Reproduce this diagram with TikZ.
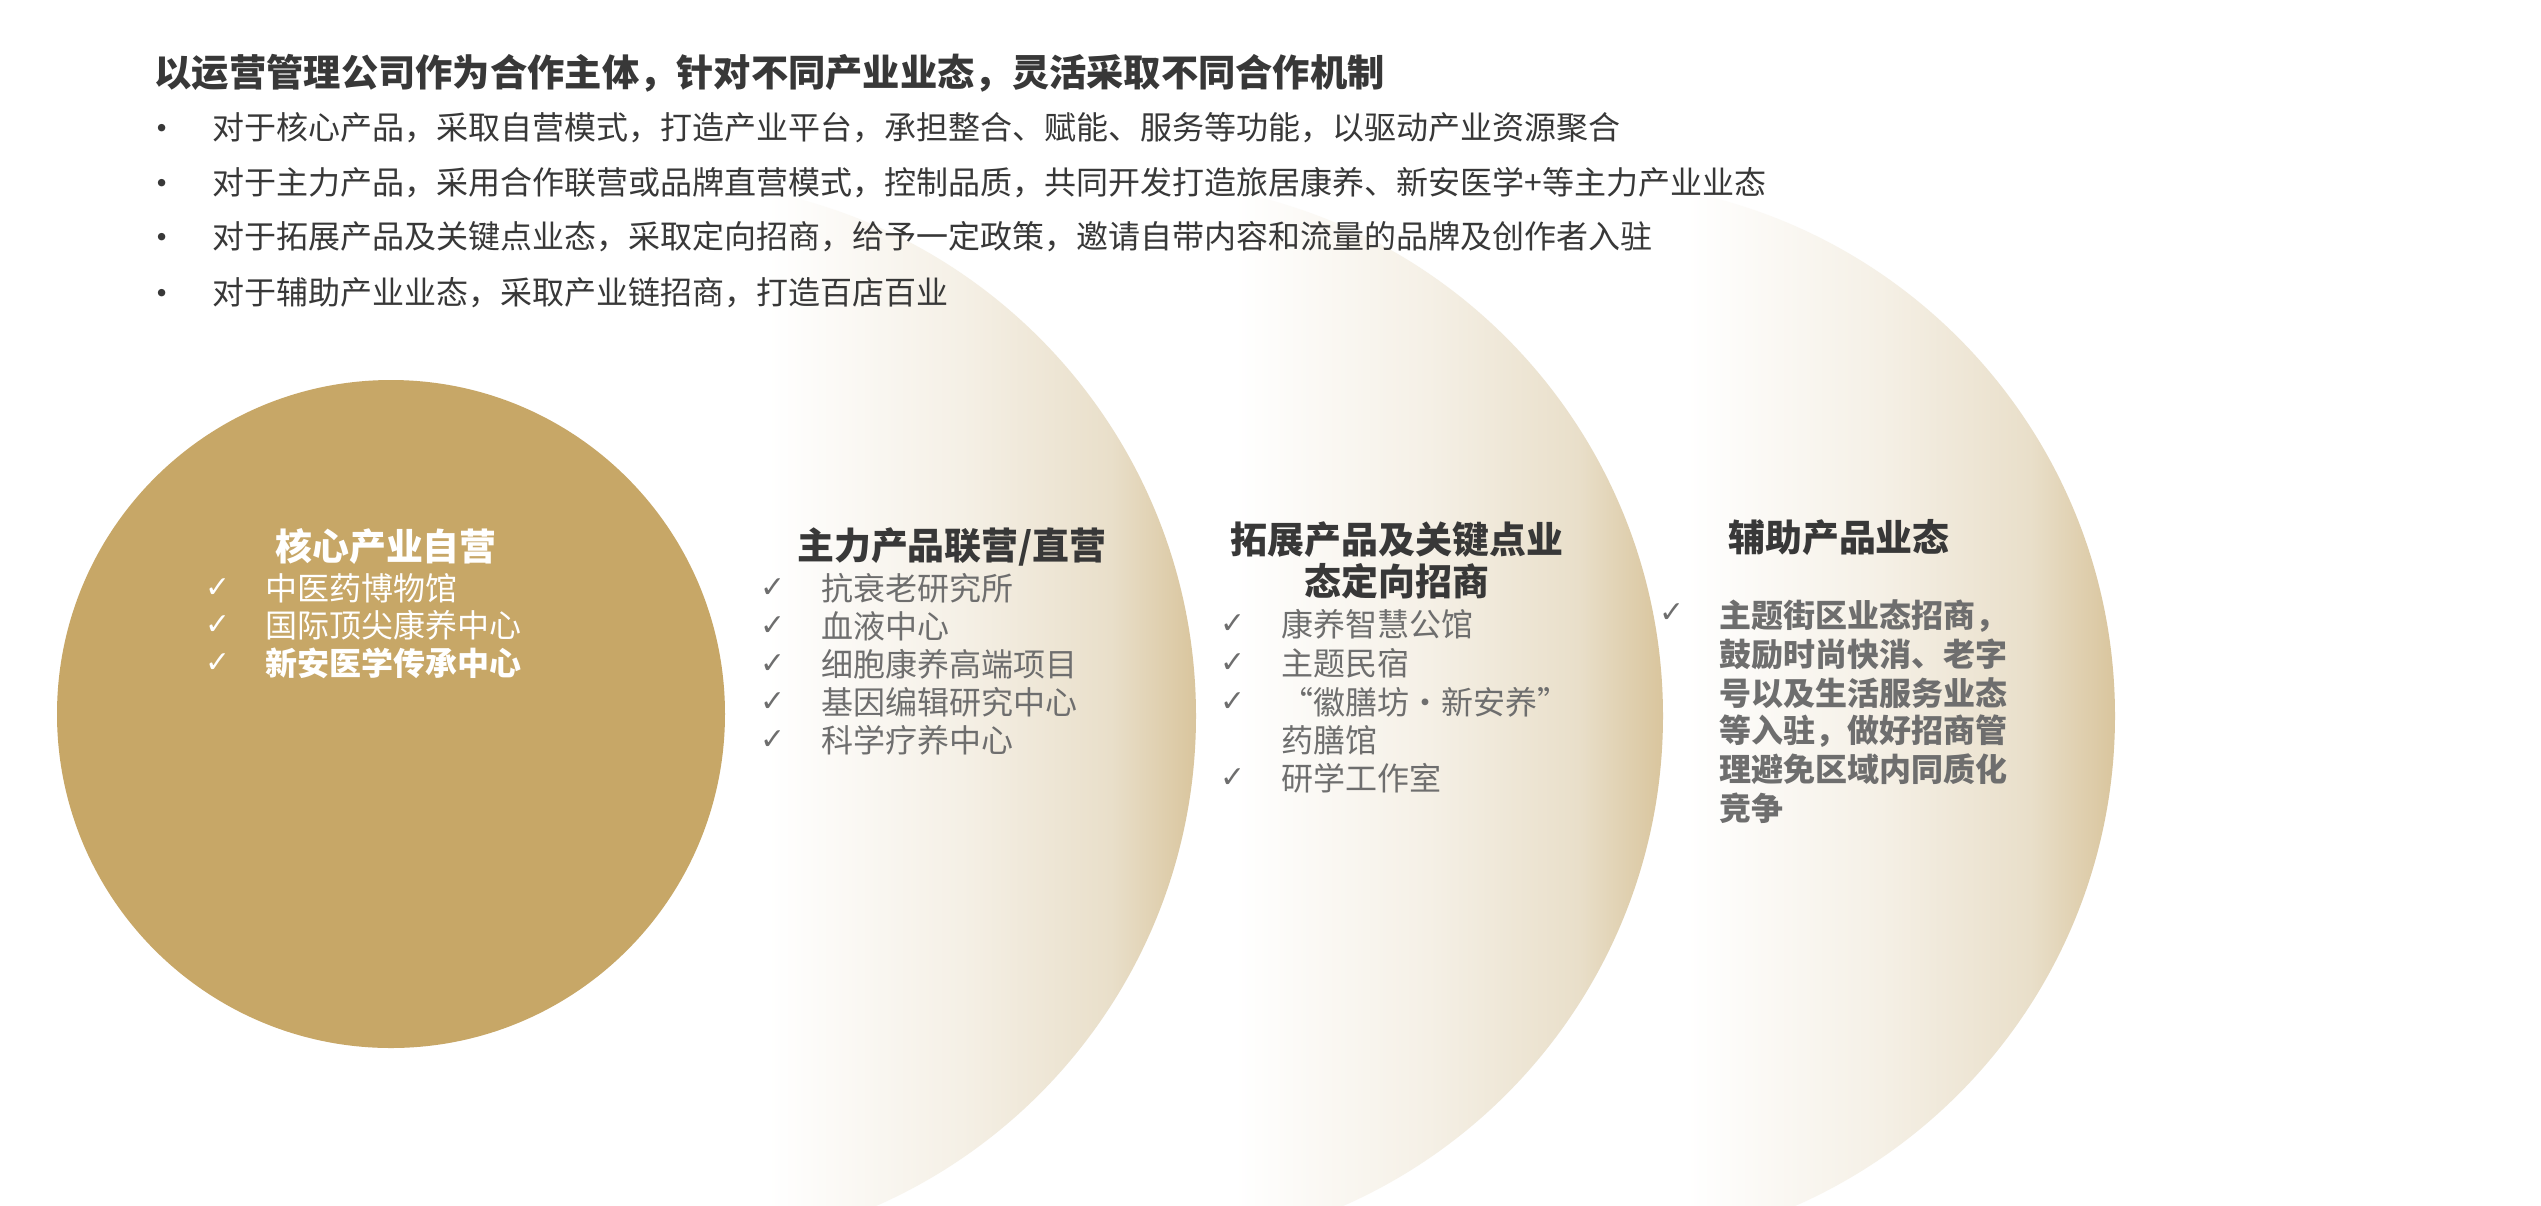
\documentclass[tikz,border=0pt]{standalone}
\usepackage{fontspec}
\setmainfont{Noto Sans CJK SC}
\newfontfamily\symfont{DejaVu Sans}
\definecolor{gold}{HTML}{C7A767}
\definecolor{cresA}{HTML}{F5F0E6}
\definecolor{cresB}{HTML}{E9DFCA}
\definecolor{cresC}{HTML}{D9C59D}
\definecolor{headgray}{HTML}{383838}
\definecolor{itemgray}{HTML}{6E6E6E}
\pgfdeclarehorizontalshading{cres}{100bp}{color(0bp)=(white); color(55bp)=(white); color(64bp)=(cresA); color(71bp)=(cresB); color(75bp)=(cresC); color(100bp)=(cresC)}
\begin{document}
\begin{tikzpicture}[x=0.01cm,y=-0.01cm,
  hd/.style={inner sep=0pt, text=headgray, font=\fontsize{10.5pt}{12pt}\selectfont\bfseries},
  bl/.style={anchor=west, inner sep=0pt, text=headgray, font=\fontsize{9.1pt}{11pt}\selectfont},
  dot/.style={inner sep=0pt, text=headgray, font=\fontsize{10pt}{11pt}\selectfont},
  it/.style={anchor=west, inner sep=0pt, text=itemgray, font=\fontsize{9.1pt}{11pt}\selectfont},
  itb/.style={it, font=\fontsize{9.1pt}{11pt}\selectfont\bfseries},
  ck/.style={inner sep=0pt, text=itemgray, font=\symfont\fontsize{8.5pt}{9pt}\selectfont}
 ]
\useasboundingbox (0,0) rectangle (2541,1205);
\fill[white] (0,0) rectangle (2541,1205);
\begin{scope}
\clip (0,0) rectangle (2541,1205);
\shade[shading=cres] (1580,716) circle[radius=535];
\shade[shading=cres] (1128,716) circle[radius=535];
\shade[shading=cres] (661,716) circle[radius=535];
\fill[gold] (391,714) circle[radius=334];
\end{scope}

% heading and bullets
\node[hd, anchor=west, font=\fontsize{10.6pt}{12pt}\selectfont\bfseries] (title) at (154,73) {以运营管理公司作为合作主体，针对不同产业业态，灵活采取不同合作机制};
\node[dot] (d1) at (162,133) {•};
\node[bl] (b1) at (212,128) {对于核心产品，采取自营模式，打造产业平台，承担整合、赋能、服务等功能，以驱动产业资源聚合};
\node[dot] (d2) at (162,188) {•};
\node[bl] (b2) at (212,183) {对于主力产品，采用合作联营或品牌直营模式，控制品质，共同开发打造旅居康养、新安医学+等主力产业业态};
\node[dot] (d3) at (162,242) {•};
\node[bl] (b3) at (212,237) {对于拓展产品及关键点业态，采取定向招商，给予一定政策，邀请自带内容和流量的品牌及创作者入驻};
\node[dot] (d4) at (162,298) {•};
\node[bl] (b4) at (212,293) {对于辅助产业业态，采取产业链招商，打造百店百业};

% core circle
\node[hd, text=white] (core) at (386,547) {核心产业自营};
\node[ck, text=white] (ck1) at (218,588) {✓};
\node[it, text=white] (core1) at (265,588) {中医药博物馆};
\node[ck, text=white] (ck2) at (218,625) {✓};
\node[it, text=white] (core2) at (265,625) {国际顶尖康养中心};
\node[ck, text=white] (ck3) at (218,663) {✓};
\node[itb, text=white] (core3) at (265,663) {新安医学传承中心};

% main products
\node[hd] (main) at (952,547) {主力产品联营/直营};
\foreach \t [count=\i from 0] in {抗衰老研究所, 血液中心, 细胞康养高端项目, 基因编辑研究中心, 科学疗养中心}{
  \node[ck] (mck\i) at (773, 588+38*\i) {✓};
  \node[it] (main\i) at (821, 588+38*\i) {\t};
}

% extension products
\node[hd, align=center, font=\fontsize{10.5pt}{11.9pt}\selectfont\bfseries] (ext) at (1397,560) {拓展产品及关键点业\\态定向招商};
\node[ck] (eck0) at (1233,624) {✓};
\node[it] (ext0) at (1281,624) {康养智慧公馆};
\node[ck] (eck1) at (1233,663) {✓};
\node[it] (ext1) at (1281,663) {主题民宿};
\node[ck] (eck2) at (1233,702) {✓};
\node[it] (ext2) at (1281,702) {“徽膳坊·新安养”};
\node[it] (ext3) at (1281,740) {药膳馆};
\node[ck] (eck4) at (1233,778) {✓};
\node[it] (ext4) at (1281,778) {研学工作室};

% auxiliary products
\node[hd] (aux) at (1839,537) {辅助产品业态};
\node[ck] (ack) at (1672,613) {✓};
\foreach \t [count=\i from 0] in {主题街区业态招商，, 鼓励时尚快消、老字, 号以及生活服务业态, 等入驻，做好招商管, 理避免区域内同质化, 竞争}{
  \node[itb] (aux\i) at (1719, 616+38.4*\i) {\t};
}
\end{tikzpicture}
\end{document}
